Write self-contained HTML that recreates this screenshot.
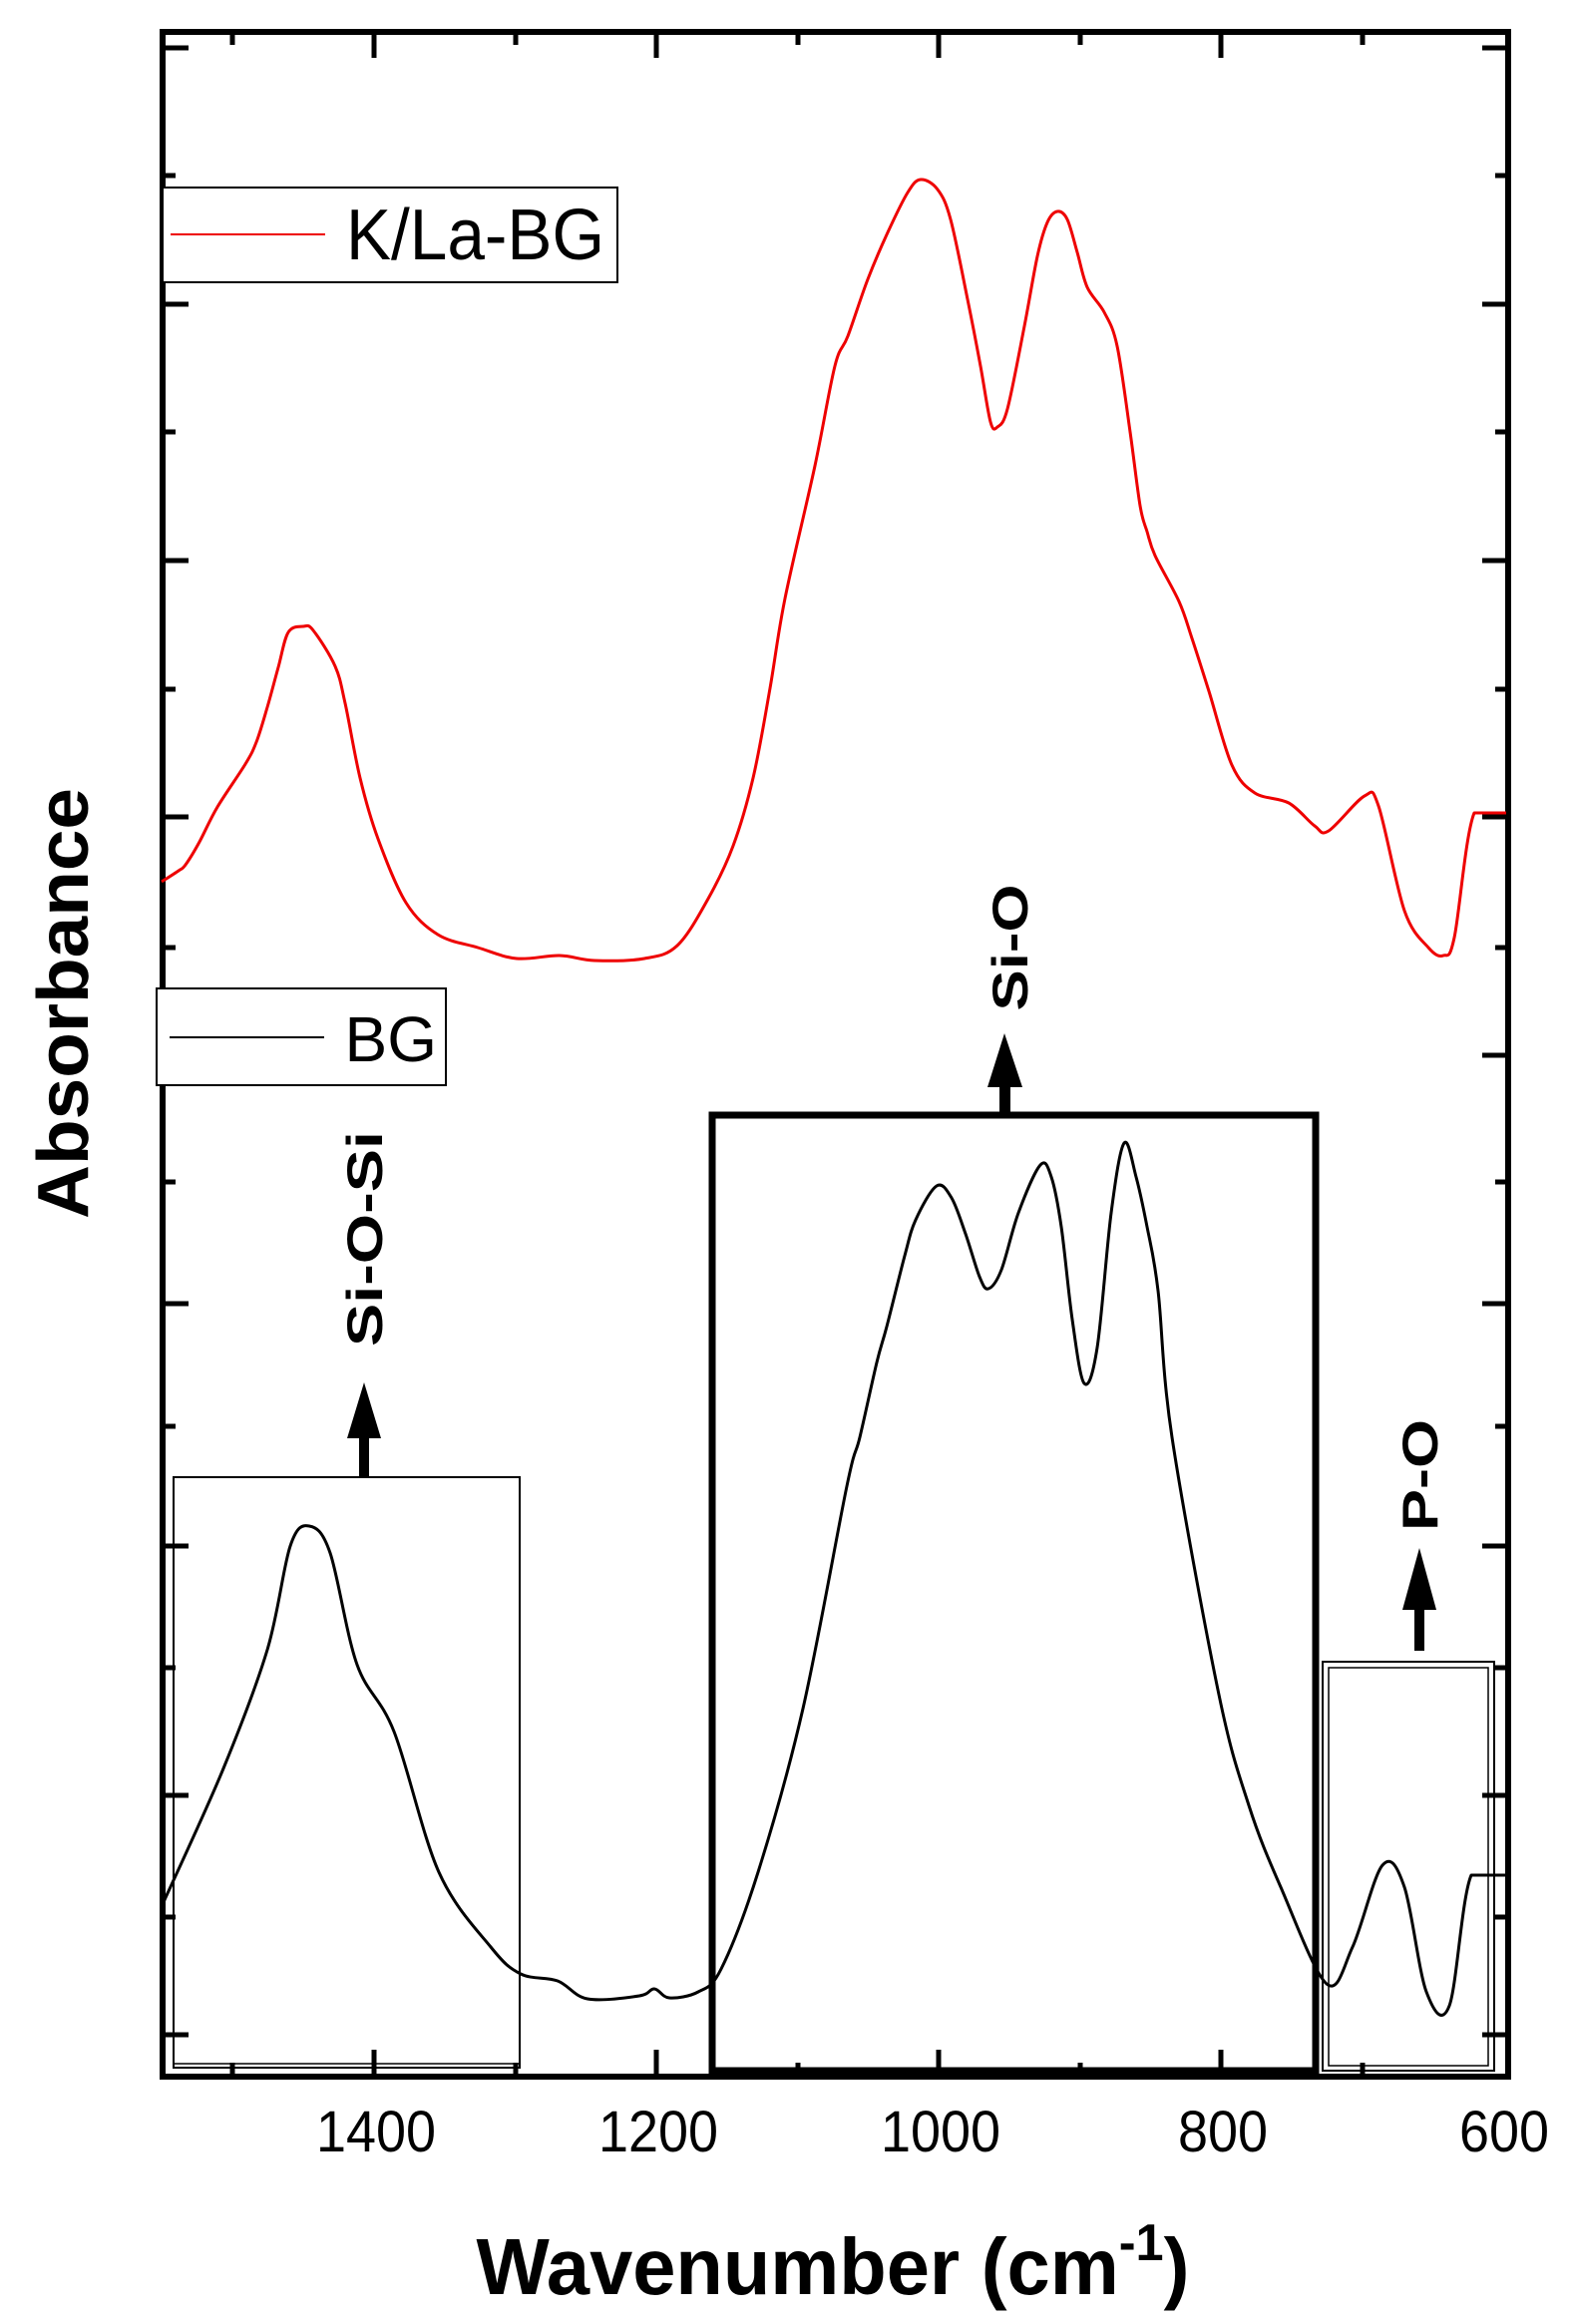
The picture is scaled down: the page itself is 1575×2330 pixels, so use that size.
<!DOCTYPE html>
<html><head><meta charset="utf-8"><style>html,body{margin:0;padding:0;background:#fff}svg{display:block}</style></head>
<body>
<svg id="s" width="1575" height="2330" viewBox="0 0 1575 2330" xmlns="http://www.w3.org/2000/svg" font-family="Liberation Sans, Arial, sans-serif">
<rect width="1575" height="2330" fill="#fff"/>
<rect x="163" y="32" width="1349" height="2050" fill="none" stroke="#000" stroke-width="6"/>
<g stroke="#000" stroke-width="5">
<line x1="375" y1="32" x2="375" y2="58"/><line x1="658" y1="32" x2="658" y2="58"/><line x1="941" y1="32" x2="941" y2="58"/><line x1="1224" y1="32" x2="1224" y2="58"/>
<line x1="233" y1="32" x2="233" y2="45"/><line x1="517" y1="32" x2="517" y2="45"/><line x1="800" y1="32" x2="800" y2="45"/><line x1="1083" y1="32" x2="1083" y2="45"/><line x1="1366" y1="32" x2="1366" y2="45"/>
<line x1="375" y1="2082" x2="375" y2="2055"/><line x1="658" y1="2082" x2="658" y2="2055"/><line x1="941" y1="2082" x2="941" y2="2055"/><line x1="1224" y1="2082" x2="1224" y2="2055"/>
<line x1="233" y1="2082" x2="233" y2="2068"/><line x1="517" y1="2082" x2="517" y2="2068"/><line x1="800" y1="2082" x2="800" y2="2068"/><line x1="1083" y1="2082" x2="1083" y2="2068"/><line x1="1366" y1="2082" x2="1366" y2="2068"/>
<line x1="163" y1="48" x2="189" y2="48"/><line x1="163" y1="305" x2="189" y2="305"/><line x1="163" y1="562" x2="189" y2="562"/><line x1="163" y1="819" x2="189" y2="819"/>
<line x1="163" y1="176" x2="176" y2="176"/><line x1="163" y1="433" x2="176" y2="433"/><line x1="163" y1="691" x2="176" y2="691"/><line x1="163" y1="950" x2="176" y2="950"/>
<line x1="163" y1="1058" x2="189" y2="1058"/><line x1="163" y1="1307" x2="189" y2="1307"/><line x1="163" y1="1550" x2="189" y2="1550"/><line x1="163" y1="1800" x2="189" y2="1800"/><line x1="163" y1="2040" x2="189" y2="2040"/>
<line x1="163" y1="1185" x2="176" y2="1185"/><line x1="163" y1="1430" x2="176" y2="1430"/><line x1="163" y1="1672" x2="176" y2="1672"/><line x1="163" y1="1922" x2="176" y2="1922"/>
<line x1="1512" y1="48" x2="1486" y2="48"/><line x1="1512" y1="305" x2="1486" y2="305"/><line x1="1512" y1="562" x2="1486" y2="562"/><line x1="1512" y1="819" x2="1486" y2="819"/>
<line x1="1512" y1="176" x2="1499" y2="176"/><line x1="1512" y1="433" x2="1499" y2="433"/><line x1="1512" y1="691" x2="1499" y2="691"/><line x1="1512" y1="950" x2="1499" y2="950"/>
<line x1="1512" y1="1058" x2="1486" y2="1058"/><line x1="1512" y1="1307" x2="1486" y2="1307"/><line x1="1512" y1="1550" x2="1486" y2="1550"/><line x1="1512" y1="1800" x2="1486" y2="1800"/><line x1="1512" y1="2040" x2="1486" y2="2040"/>
<line x1="1512" y1="1185" x2="1499" y2="1185"/><line x1="1512" y1="1430" x2="1499" y2="1430"/><line x1="1512" y1="1672" x2="1499" y2="1672"/><line x1="1512" y1="1922" x2="1499" y2="1922"/>
</g>
<g font-size="58" text-anchor="middle" fill="#000">
<text x="377" y="2157" textLength="120" lengthAdjust="spacingAndGlyphs">1400</text>
<text x="660" y="2157" textLength="120" lengthAdjust="spacingAndGlyphs">1200</text>
<text x="943" y="2157" textLength="120" lengthAdjust="spacingAndGlyphs">1000</text>
<text x="1226" y="2157" textLength="90" lengthAdjust="spacingAndGlyphs">800</text>
<text x="1508" y="2157" textLength="90" lengthAdjust="spacingAndGlyphs">600</text>
</g>
<text x="835" y="2300" font-size="80" font-weight="bold" text-anchor="middle" textLength="715" lengthAdjust="spacingAndGlyphs">Wavenumber (cm<tspan font-size="52" dy="-34">-1</tspan><tspan dy="34">)</tspan></text>
<text transform="translate(88,1006) rotate(-90)" font-size="72" font-weight="bold" text-anchor="middle" textLength="432" lengthAdjust="spacingAndGlyphs">Absorbance</text>
<rect x="163" y="188" width="456" height="95" fill="#fff" stroke="#000" stroke-width="2"/>
<line x1="171" y1="235" x2="326" y2="235" stroke="#e00" stroke-width="2"/>
<text x="347" y="260" font-size="72" textLength="259" lengthAdjust="spacingAndGlyphs">K/La-BG</text>
<rect x="157" y="991" width="290" height="97" fill="#fff" stroke="#000" stroke-width="2"/>
<line x1="170" y1="1040" x2="325" y2="1040" stroke="#000" stroke-width="2"/>
<text x="438" y="1064" font-size="64" text-anchor="end">BG</text>
<rect x="174" y="1481" width="347" height="592" fill="none" stroke="#000" stroke-width="2"/>
<line x1="174" y1="2069" x2="521" y2="2069" stroke="#000" stroke-width="1.5"/>
<rect x="714" y="1118" width="605" height="958" fill="none" stroke="#000" stroke-width="7"/>
<rect x="1326" y="1666" width="172" height="410" fill="none" stroke="#000" stroke-width="2"/>
<rect x="1332" y="1672" width="160" height="399" fill="none" stroke="#000" stroke-width="1.5"/>
<g fill="#000">
<rect x="360" y="1440" width="10" height="41"/><polygon points="348,1442 382,1442 365,1386"/>
<rect x="1002" y="1085" width="11" height="33"/><polygon points="990,1090 1025,1090 1007,1036"/>
<rect x="1418" y="1610" width="10" height="45"/><polygon points="1406,1614 1440,1614 1423,1552"/>
</g>
<g font-size="50" font-weight="bold" fill="#000">
<text transform="translate(383,1242) rotate(-90)" text-anchor="middle" textLength="216" lengthAdjust="spacingAndGlyphs">Si-O-Si</text>
<text transform="translate(1030,950) rotate(-90)" text-anchor="middle" textLength="127" lengthAdjust="spacingAndGlyphs">Si-O</text>
<text transform="translate(1441,1479) rotate(-90)" text-anchor="middle" textLength="112" lengthAdjust="spacingAndGlyphs">P-O</text>
</g>
<polyline class="c" fill="none" stroke="#e00" stroke-width="3" stroke-linejoin="round" points="162,884 179,873 186,867 200,844 218,809 246,766 257,744 268,709 279,669 289,634 304,628 314,632 336,668 346,705 361,780 379,841 407,905 439,937 479,950 518,961 561,958 596,963 646,961 679,948 710,901 735,848 755,780 772,690 787,600 817,467 837,367 850,337 870,280 890,233 910,193 923,180 940,190 953,220 970,300 983,367 993,423 1000,428 1010,410 1027,327 1040,257 1050,223 1060,212 1070,220 1080,253 1090,288 1107,313 1120,347 1133,433 1143,507 1150,533 1158,557 1182,603 1195,640 1212,693 1235,767 1258,795 1292,805 1318,828 1332,833 1368,798 1382,808 1408,913 1432,950 1447,958 1458,940 1478,815 1510,815"/>
<polyline class="c" fill="none" stroke="#000" stroke-width="3" stroke-linejoin="round" points="164,1907 224,1773 268,1654 291,1550 310,1530 331,1557 358,1669 395,1736 440,1877 492,1952 522,1979 559,1986 589,2004 641,2001 656,1994 671,2003 700,1997 723,1974 760,1877 805,1713 849,1490 862,1441 879,1366 889,1330 907,1259 918,1223 939,1189 954,1201 968,1237 982,1280 991,1292 1004,1273 1021,1216 1043,1168 1054,1180 1064,1230 1075,1323 1087,1387 1100,1351 1114,1216 1127,1146 1139,1180 1150,1230 1161,1294 1175,1441 1222,1699 1252,1810 1284,1892 1330,1989 1356,1952 1386,1870 1408,1892 1430,1997 1453,2011 1475,1880 1510,1880"/>
</svg>
<script>
(function(){
var ns="http://www.w3.org/2000/svg";
var pls=document.querySelectorAll("polyline.c");
for(var k=0;k<pls.length;k++){
 var pl=pls[k];
 var pts=pl.getAttribute("points").trim().split(/\s+/).map(function(s){var a=s.split(",");return[+a[0],+a[1]];});
 var n=pts.length;
 var d="M"+pts[0][0]+","+pts[0][1];
 for(var i=0;i<n-2;i++){
  var p0=pts[Math.max(i-1,0)],p1=pts[i],p2=pts[i+1],p3=pts[Math.min(i+2,n-1)];
  var c1=[p1[0]+(p2[0]-p0[0])/6,p1[1]+(p2[1]-p0[1])/6];
  var c2=[p2[0]-(p3[0]-p1[0])/6,p2[1]-(p3[1]-p1[1])/6];
  d+=" C"+c1[0].toFixed(1)+","+c1[1].toFixed(1)+" "+c2[0].toFixed(1)+","+c2[1].toFixed(1)+" "+p2[0]+","+p2[1];
 }
 d+=" L"+pts[n-1][0]+","+pts[n-1][1];
 var p=document.createElementNS(ns,"path");
 p.setAttribute("d",d);
 ["fill","stroke","stroke-width","stroke-linejoin"].forEach(function(a){p.setAttribute(a,pl.getAttribute(a));});
 pl.parentNode.replaceChild(p,pl);
}
})();
</script>
</body></html>
